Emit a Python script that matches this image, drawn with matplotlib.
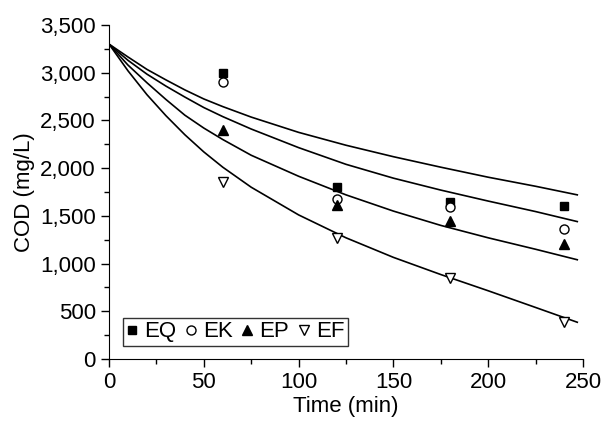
import matplotlib
matplotlib.use("Agg")
import matplotlib.pyplot as plt
from matplotlib.ticker import FuncFormatter, MultipleLocator

plt.rcParams['font.family'] = ['Liberation Sans', 'DejaVu Sans']

# measured points
t_obs = [60, 120, 180, 240]
eq = [3000, 1800, 1650, 1600]
ek = [2900, 1680, 1590, 1360]
ep = [2400, 1610, 1450, 1200]
ef = [1850, 1270, 850, 390]

# fitted curves
t_fit = [0, 10, 20, 30, 40, 50, 60, 75, 100, 125, 150, 175, 200, 225, 247]
fit1 = [3300, 3165, 3035, 2925, 2820, 2725, 2645, 2535, 2375, 2240, 2120, 2010, 1905, 1810, 1720]
fit2 = [3300, 3130, 2985, 2860, 2745, 2635, 2540, 2410, 2215, 2040, 1895, 1770, 1655, 1545, 1440]
fit3 = [3300, 3080, 2895, 2720, 2555, 2420, 2300, 2135, 1915, 1720, 1550, 1400, 1270, 1150, 1040]
fit4 = [3300, 3020, 2770, 2550, 2350, 2170, 2010, 1800, 1510, 1270, 1065, 885, 715, 540, 385]

fig = plt.figure(figsize=(6.01, 4.26), dpi=100)
ax = fig.add_axes([0.1814, 0.1573, 0.7886, 0.784])

for f in [fit1, fit2, fit3, fit4]:
    ax.plot(t_fit, f, color='black', lw=1.2)

ax.plot(t_obs, eq, 's', color='black', ms=5.5, label='EQ')
ax.plot(t_obs, ek, 'o', mfc='white', mec='black', mew=1, ms=6.5, label='EK')
ax.plot(t_obs, ep, '^', color='black', ms=6.5, label='EP')
ax.plot(t_obs, ef, 'v', mfc='white', mec='black', mew=1, ms=7, label='EF')

ax.set_xlim(0, 250)
ax.set_ylim(0, 3500)
ax.xaxis.set_major_locator(MultipleLocator(50))
ax.xaxis.set_minor_locator(MultipleLocator(25))
ax.yaxis.set_major_locator(MultipleLocator(500))
ax.yaxis.set_minor_locator(MultipleLocator(250))
ax.yaxis.set_major_formatter(FuncFormatter(lambda v, p: '{:,.0f}'.format(v)))

ax.spines['top'].set_visible(False)
ax.spines['right'].set_visible(False)
ax.tick_params(which='major', direction='out', length=6, width=1, labelsize=16)
ax.tick_params(which='minor', direction='out', length=3.5, width=1)

ax.set_xlabel('Time (min)', fontsize=16, labelpad=2)
ax.set_ylabel('COD (mg/L)', fontsize=16, labelpad=4)

leg = ax.legend(ncol=4, loc='lower left', bbox_to_anchor=(0.03, 0.04),
                fontsize=16, frameon=True, fancybox=False, handlelength=0.5,
                handletextpad=0.3, columnspacing=0.4, borderpad=0.15,
                borderaxespad=0)
leg.get_frame().set_edgecolor('black')
leg.get_frame().set_linewidth(1)

fig.savefig('out.png', dpi=100)
